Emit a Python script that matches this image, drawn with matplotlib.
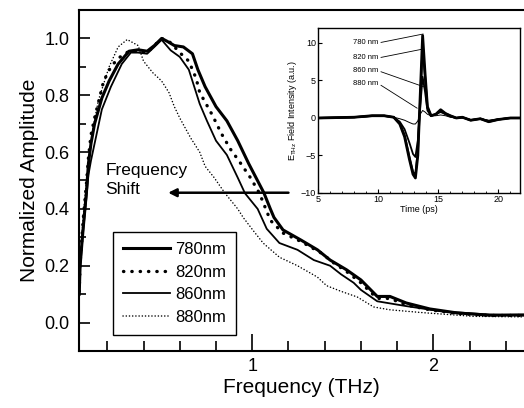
import matplotlib
matplotlib.use('Agg')
import matplotlib.pyplot as plt
from matplotlib.ticker import MultipleLocator, FixedLocator

plt.rcParams['font.family'] = ['Liberation Sans', 'DejaVu Sans']
plt.rcParams['mathtext.fontset'] = 'custom'
plt.rcParams['mathtext.rm'] = 'Liberation Sans'

# normalized spectra (frequency in THz, amplitude)
f_780 = [0.045, 0.05, 0.06, 0.068, 0.085, 0.096, 0.11, 0.13, 0.17, 0.21, 0.26, 0.32, 0.37, 0.42,
         0.46, 0.50, 0.53, 0.57, 0.62, 0.67, 0.70, 0.74, 0.80, 0.86, 0.92, 0.98, 1.064, 1.10,
         1.12, 1.17, 1.27, 1.36, 1.43, 1.52, 1.60, 1.69, 1.76, 1.85, 1.98, 2.13, 2.31, 2.5]
a_780 = [0.10, 0.20, 0.28, 0.34, 0.46, 0.56, 0.63, 0.70, 0.79, 0.85, 0.91, 0.955, 0.96, 0.955,
         0.975, 1.0, 0.99, 0.975, 0.97, 0.946, 0.89, 0.83, 0.76, 0.71, 0.64, 0.56, 0.457, 0.40,
         0.37, 0.326, 0.29, 0.256, 0.22, 0.186, 0.15, 0.092, 0.092, 0.069, 0.048, 0.034, 0.026, 0.027]

f_820 = [0.045, 0.05, 0.06, 0.068, 0.085, 0.096, 0.11, 0.13, 0.18, 0.22, 0.26, 0.32, 0.37, 0.42,
         0.46, 0.50, 0.55, 0.60, 0.65, 0.69, 0.71, 0.78, 0.83, 0.88, 0.93, 0.99, 1.04, 1.10,
         1.17, 1.27, 1.38, 1.45, 1.52, 1.60, 1.69, 1.76, 1.85, 1.98, 2.13, 2.31, 2.5]
a_820 = [0.11, 0.21, 0.30, 0.37, 0.49, 0.58, 0.66, 0.72, 0.85, 0.90, 0.93, 0.955, 0.955, 0.95,
         0.975, 1.0, 0.985, 0.95, 0.92, 0.86, 0.81, 0.73, 0.665, 0.61, 0.566, 0.51, 0.455, 0.36,
         0.315, 0.285, 0.245, 0.21, 0.18, 0.14, 0.085, 0.085, 0.062, 0.045, 0.032, 0.025, 0.025]

f_860 = [0.045, 0.05, 0.06, 0.068, 0.085, 0.096, 0.11, 0.17, 0.22, 0.28, 0.33, 0.37, 0.42, 0.46,
         0.50, 0.55, 0.60, 0.65, 0.68, 0.71, 0.75, 0.80, 0.86, 0.92, 0.96, 1.03, 1.08, 1.15,
         1.25, 1.34, 1.43, 1.49, 1.56, 1.60, 1.69, 1.85, 2.04, 2.31, 2.5]
a_860 = [0.10, 0.19, 0.27, 0.33, 0.44, 0.52, 0.57, 0.75, 0.83, 0.91, 0.95, 0.95, 0.946, 0.97,
         0.995, 0.958, 0.935, 0.89, 0.83, 0.77, 0.71, 0.64, 0.59, 0.51, 0.455, 0.40, 0.33, 0.28,
         0.256, 0.22, 0.20, 0.17, 0.14, 0.115, 0.075, 0.058, 0.04, 0.028, 0.025]

f_880 = [0.045, 0.05, 0.06, 0.068, 0.085, 0.10, 0.12, 0.15, 0.18, 0.21, 0.26, 0.31, 0.37, 0.40,
         0.45, 0.50, 0.54, 0.57, 0.60, 0.66, 0.71, 0.74, 0.79, 0.85, 0.92, 0.95, 1.01, 1.06,
         1.15, 1.25, 1.36, 1.41, 1.49, 1.58, 1.67, 1.76, 1.94, 2.22, 2.5]
a_880 = [0.11, 0.21, 0.31, 0.38, 0.50, 0.57, 0.68, 0.78, 0.84, 0.90, 0.97, 0.996, 0.975, 0.92,
         0.88, 0.85, 0.81, 0.76, 0.72, 0.65, 0.60, 0.55, 0.51, 0.455, 0.40, 0.37, 0.32, 0.28,
         0.23, 0.20, 0.16, 0.13, 0.11, 0.09, 0.055, 0.045, 0.035, 0.022, 0.02]

labels = ['780nm', '820nm', '860nm', '880nm']

# inset: THz field vs time (ps)
t_ps = [5, 8, 9.5, 10.5, 11.3, 11.8, 12.2, 12.6, 12.9, 13.1, 13.3, 13.5, 13.7, 13.9, 14.1, 14.4,
        14.8, 15.2, 15.6, 16.0, 16.5, 17.0, 17.7, 18.5, 19.2, 20.0, 21.0, 22.0]
e_780 = [0, 0.1, 0.3, 0.3, 0.1, -0.8, -2.5, -5.5, -7.5, -8.0, -5.0, 3.0, 11.0, 6.0, 1.5, 0.3,
         0.5, 1.1, 0.6, 0.3, 0.0, 0.1, -0.3, -0.1, -0.5, -0.2, 0, 0]
e_820 = [0, 0.1, 0.3, 0.3, 0.1, -0.7, -2.3, -5.2, -7.2, -7.6, -4.5, 2.5, 9.5, 5.5, 1.4, 0.3,
         0.5, 1.0, 0.6, 0.3, 0.0, 0.1, -0.3, -0.1, -0.5, -0.2, 0, 0]
e_860 = [0, 0.1, 0.3, 0.3, 0.1, -0.5, -1.5, -3.3, -4.8, -5.2, -3.0, 1.5, 5.5, 3.5, 1.0, 0.3,
         0.5, 0.8, 0.5, 0.2, 0.0, 0.1, -0.3, -0.1, -0.4, -0.2, 0, 0]
e_880 = [0, 0.05, 0.2, 0.2, 0.1, -0.1, -0.3, -0.6, -0.8, -0.8, -0.4, 0.5, 1.0, 0.8, 0.5, 0.3,
         0.3, 0.4, 0.3, 0.1, 0.0, 0.0, -0.2, -0.1, -0.3, -0.1, 0, 0]
inset_labels = ['780 nm', '820 nm', '860 nm', '880 nm']


def main():
    fig = plt.figure(figsize=(5.24, 4.08), dpi=100)
    ax = fig.add_axes([0.1508, 0.1397, 0.8492, 0.8358])

    ax.plot(f_780, a_780, color='black', lw=2.2, label=labels[0])
    ax.plot(f_820, a_820, color='black', lw=2.4, linestyle=(0, (0.1, 2.4)),
            dash_capstyle='round', label=labels[1])
    ax.plot(f_860, a_860, color='black', lw=1.3, label=labels[2])
    ax.plot(f_880, a_880, color='black', lw=1.1, linestyle=(0, (0.1, 2.0)),
            dash_capstyle='round', label=labels[3])

    ax.set_xlim(0.044, 2.5)
    ax.set_ylim(-0.1, 1.1)
    ax.xaxis.set_major_locator(FixedLocator([1, 2]))
    ax.xaxis.set_minor_locator(MultipleLocator(0.2))
    ax.yaxis.set_major_locator(MultipleLocator(0.2))
    ax.yaxis.set_minor_locator(MultipleLocator(0.1))
    ax.set_xticklabels(['1', '2'])
    ax.tick_params(axis='both', which='both', direction='in', labelsize=13, width=1.2)
    ax.tick_params(axis='x', which='major', length=12, pad=5)
    ax.tick_params(axis='x', which='minor', length=7)
    ax.tick_params(axis='y', which='major', length=8, pad=7)
    ax.tick_params(axis='y', which='minor', length=5)
    ax.yaxis.set_major_formatter(plt.FormatStrFormatter('%.1f'))
    for s in ('left', 'bottom', 'top'):
        ax.spines[s].set_linewidth(1.5)
    ax.spines['right'].set_visible(False)

    ax.set_xlabel('Frequency (THz)', fontsize=15, labelpad=2)
    ax.set_ylabel('Normalized Amplitude', fontsize=15, labelpad=4)

    leg = ax.legend(loc='lower left', bbox_to_anchor=(0.058, 0.023), fontsize=12,
                    handlelength=2.8, handletextpad=0.3, labelspacing=0.45, borderpad=0.6,
                    fancybox=False, edgecolor='black', framealpha=1)
    leg.get_frame().set_linewidth(1.0)

    ax.annotate('', xy=(0.536, 0.457), xytext=(1.20, 0.457),
                arrowprops=dict(arrowstyle='-|>', lw=1.8, color='black', mutation_scale=12,
                                shrinkA=0, shrinkB=0))
    ax.text(0.19, 0.56, 'Frequency\nShift', fontsize=12.5, ha='left', va='top', linespacing=1.3)

    # inset
    ins = fig.add_axes([0.6069, 0.527, 0.3855, 0.4044])
    ins.plot(t_ps, e_780, color='black', lw=2.0)
    ins.plot(t_ps, e_820, color='black', lw=1.5)
    ins.plot(t_ps, e_860, color='black', lw=1.3)
    ins.plot(t_ps, e_880, color='black', lw=0.7)
    ins.set_xlim(5, 21.8)
    ins.set_ylim(-10, 12)
    ins.set_xticks([5, 10, 15, 20])
    ins.set_yticks([-10, -5, 0, 5, 10])
    ins.xaxis.set_minor_locator(MultipleLocator(1))
    ins.tick_params(axis='both', which='major', direction='in', length=3, labelsize=6.5, pad=1.5)
    ins.tick_params(axis='both', which='minor', direction='in', length=1.5)
    for s in ins.spines.values():
        s.set_linewidth(1.0)
    ins.set_xlabel('Time (ps)', fontsize=6.5, labelpad=0.5)
    ins.set_ylabel(r'E$_{\rm THz}$ Field Intensity (a.u.)', fontsize=6.5, labelpad=1)

    ends = [(13.75, 11.2), (13.75, 9.2), (13.9, 4.1), (13.25, 1.3)]
    texts_y = [10, 8, 6.3, 4.6]
    for lab, end, ty in zip(inset_labels, ends, texts_y):
        ins.annotate(lab, xy=end, xytext=(7.9, ty), fontsize=5.5, ha='left', va='center',
                     arrowprops=dict(arrowstyle='-', lw=0.6, color='black', relpos=(1, 0.5),
                                     shrinkA=0, shrinkB=0))

    fig.savefig('out.png', dpi=100)


if __name__ == '__main__':
    main()
